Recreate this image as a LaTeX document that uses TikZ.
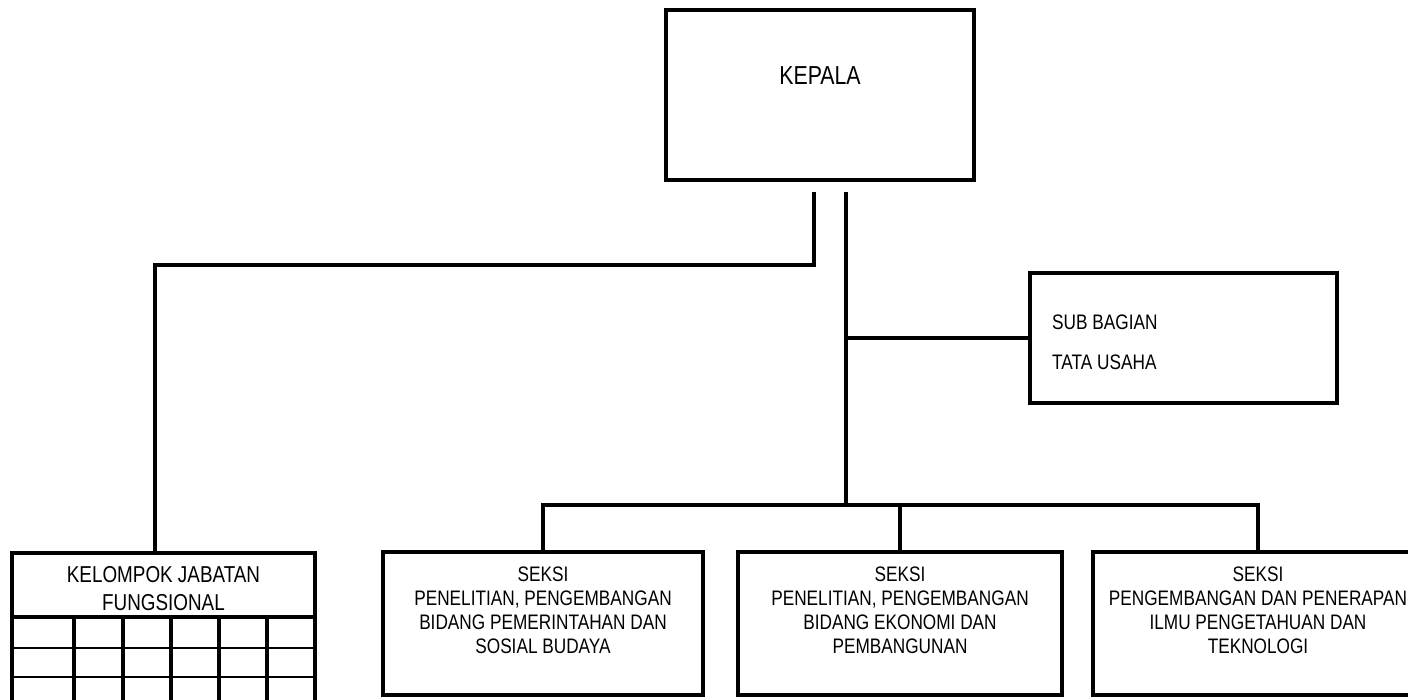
\documentclass[tikz,border=0pt]{standalone}
\usepackage{fontspec}
\setmainfont{Liberation Sans}[FakeStretch=0.82]
\begin{document}
\begin{tikzpicture}[x=1pt,y=-1pt,
  box/.style={draw=black,line width=4pt,fill=white,inner sep=0pt,minimum width=#1},
  conn/.style={line width=3.4pt},
  gridv/.style={line width=3.6pt},
  gridh/.style={line width=2.6pt},
  txt/.style={inner sep=0pt,align=center}]
\useasboundingbox (0,0) rectangle (1408,700);
\clip (0,0) rectangle (1408,700);
% boxes
\node[box=308pt,minimum height=170pt] (kepala) at (820,95) {};
\node[txt,font=\fontsize{26}{30}\selectfont] (kepalat) at (820,75.5) {KEPALA};
\node[box=307pt,minimum height=130pt] (sub) at (1183.5,338) {};
\node[inner sep=0pt,align=left,anchor=west,font=\fontsize{21}{40}\selectfont] (subt) at (1052,342.5) {SUB BAGIAN\\TATA USAHA};
\node[box=320pt,minimum height=143pt] (s1) at (543,623.5) {};
\node[txt,font=\fontsize{21}{24}\selectfont] (s1t) at (543,610.5) {SEKSI\\PENELITIAN, PENGEMBANGAN\\BIDANG PEMERINTAHAN DAN\\SOSIAL BUDAYA};
\node[box=324pt,minimum height=143pt] (s2) at (900,623.5) {};
\node[txt,font=\fontsize{21}{24}\selectfont] (s2t) at (900,610.5) {SEKSI\\PENELITIAN, PENGEMBANGAN\\BIDANG EKONOMI DAN\\PEMBANGUNAN};
\node[box=330pt,minimum height=143pt] (s3) at (1258,623.5) {};
\node[txt,font=\fontsize{21}{24}\selectfont] (s3t) at (1258,610.5) {SEKSI\\PENGEMBANGAN DAN PENERAPAN\\ILMU PENGETAHUAN DAN\\TEKNOLOGI};
% kelompok jabatan fungsional
\node[box=303pt,minimum height=180pt,anchor=north] (kel) at (163.5,551) {};
\node[txt,font=\fontsize{23}{28}\selectfont] (kelt) at (163.5,589) {KELOMPOK JABATAN\\FUNGSIONAL};
\draw[gridv] (kel.west |- 0,617) -- (kel.east |- 0,617);
\draw[gridh] (kel.west |- 0,648) -- (kel.east |- 0,648);
\draw[gridh] (kel.west |- 0,677) -- (kel.east |- 0,677);
\foreach \cx in {74,123,171,219,267}{
  \draw[gridv] (\cx,617) -- (\cx,730);
}
% connectors
\coordinate (k1) at (814,192);
\coordinate (k2) at (846,192);
\coordinate (j1) at (155,265);
\coordinate (bus) at (846,505);
\draw[conn] (k1) |- (j1) -- (j1 |- kel.north);
\draw[conn] (k2) -- (bus);
\draw[conn] (k2 |- sub.west) -- (sub.west);
\draw[conn] (s1.north) |- (bus) -| (s3.north);
\draw[conn] (s2.north) -- (s2.north |- bus);
\end{tikzpicture}
\end{document}
